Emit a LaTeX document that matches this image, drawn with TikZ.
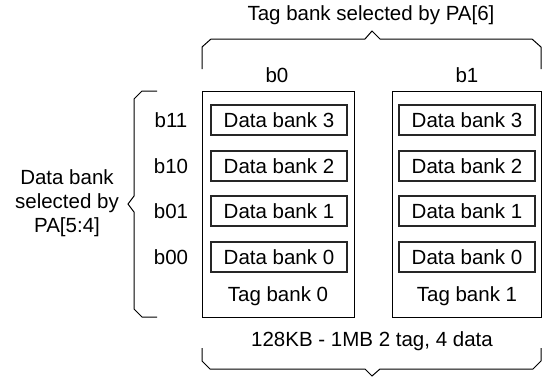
\documentclass[tikz,border=0pt]{standalone}
\usepackage{fontspec}
\setmainfont{Liberation Sans}
\begin{document}
\begin{tikzpicture}[x=1pt,y=-1pt,
  lbl/.style={font=\fontsize{20.5}{24}\selectfont, inner sep=0pt, anchor=center},
  outerbox/.style={draw=black, line width=1pt},
  databox/.style={draw=black!85, line width=1.2pt, minimum width=136pt, minimum height=30pt, inner sep=0pt, font=\fontsize{20.5}{24}\selectfont},
  brace/.style={draw=black, line width=1pt, line join=miter}]
\useasboundingbox (0,0) rectangle (542,376);

% Titles
\node[lbl] (title) at (371,15) {Tag bank selected by PA[6]};
\node[lbl] (bz) at (277,75) {b0};
\node[lbl] (bo) at (467,75) {b1};

% Outer tag-bank boxes
\draw[outerbox] (202,91) rectangle (354,317);
\draw[outerbox] (392,91) rectangle (541,317);
\coordinate (tb0) at (202,91);
\coordinate (tb1) at (392,91);

% Data banks
\foreach \n/\y in {3/120,2/166,1/211,0/257}{
  \node[databox] (d0\n) at (279,\y) {Data bank \n};
  \node[databox] (d1\n) at (467,\y) {Data bank \n};
}

\node[lbl] (t0) at (278,296) {Tag bank 0};
\node[lbl] (t1) at (467,296) {Tag bank 1};

% Row labels
\node[lbl] (r3) at (171,120) {b11};
\node[lbl] (r2) at (171,166) {b10};
\node[lbl] (r1) at (171,211) {b01};
\node[lbl] (r0) at (171,257) {b00};

% Left text
\node[lbl, align=center] (left) at (67,203) {Data bank\\selected by\\PA[5:4]};

% Bottom text
\node[lbl] (bottom) at (372,341) {128KB - 1MB 2 tag, 4 data};

% Braces
\draw[brace] (202,69) -- (202,47) -- (211,39) -- (365,39) -- (372,31) -- (380,39) -- (532,39) -- (541,47) -- (541,69);
\draw[brace] (202,348) -- (202,361) -- (210,369) -- (365,369) -- (372,376) -- (380,369) -- (533,369) -- (541,361) -- (541,348);
\draw[brace] (157,91) -- (142,91) -- (134,99) -- (134,196) -- (128,204) -- (134,212) -- (134,309) -- (142,317) -- (157,317);
\end{tikzpicture}
\end{document}
